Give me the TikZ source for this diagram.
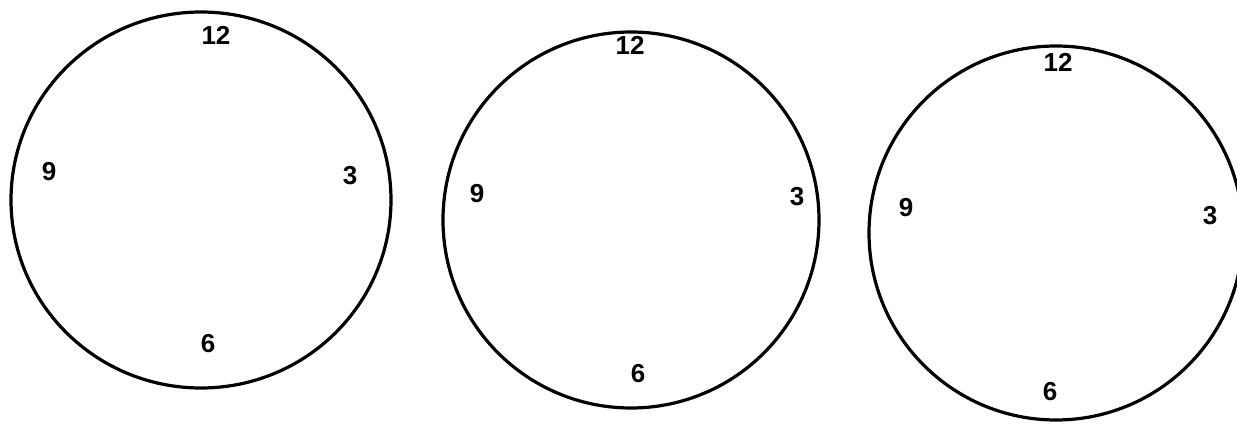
\documentclass[tikz,border=0pt]{standalone}
\usepackage{fontspec}
\setmainfont{Liberation Sans}
\begin{document}
\begin{tikzpicture}[x=1pt,y=-1pt,
  rim/.style={draw=black,line width=3.2pt},
  num/.style={font=\fontsize{26}{26}\selectfont\bfseries,inner sep=0pt}]
\useasboundingbox (0,0) rectangle (1237,425);
\clip (0,0) rectangle (1237,425);
% clock 1
\coordinate (c1) at (201,200);
\draw[rim] (c1) ellipse [x radius=190, y radius=188];
\node[num] (a12) at (216,35) {12};
\node[num] (a9) at (49,172) {9};
\node[num] (a3) at (350,176) {3};
\node[num] (a6) at (208,344) {6};
% clock 2
\coordinate (c2) at (631,220);
\draw[rim] (c2) circle [radius=188];
\node[num] (b12) at (630,45) {12};
\node[num] (b9) at (477,194) {9};
\node[num] (b3) at (797,197) {3};
\node[num] (b6) at (638,374) {6};
% clock 3
\coordinate (c3) at (1056,233);
\draw[rim] (c3) circle [radius=187];
\node[num] (d12) at (1058,62) {12};
\node[num] (d9) at (906,208) {9};
\node[num] (d3) at (1210,216) {3};
\node[num] (d6) at (1050,392) {6};
\end{tikzpicture}
\end{document}
